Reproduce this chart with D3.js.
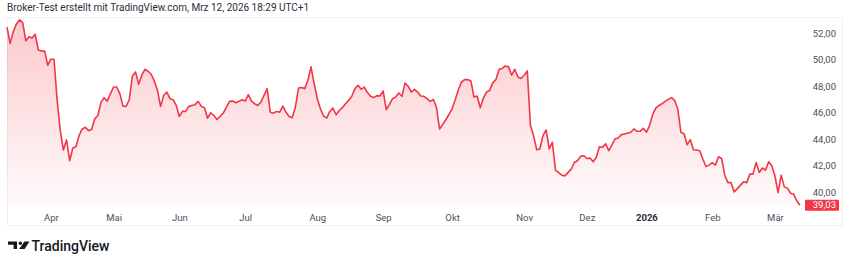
<!DOCTYPE html>
<html>
<head>
<meta charset="utf-8">
<script src="https://cdn.jsdelivr.net/npm/d3@7"></script>
<style>
  body { margin: 0; background: #fff; }
  svg { display: block; font-family: Roboto, "Noto Sans", sans-serif; }
</style>
</head>
<body>
<div class="graph"></div>
<script>
// trading session number (0 = Mar 12 2025) and closing price
const bars = [
  0,1,2,3,4,5,6,7,8,9,10,11,12,13,14,15,16,17,18,19,20,21,22,23,24,25,26,27,28,29,
  30,31,32,33,34,35,36,37,38,39,40,41,42,43,44,45,46,47,48,49,50,51,52,53,54,55,56,57,58,59,
  60,61,62,63,64,65,66,67,69,70,71,72,73,74,75,76,77,78,79,80,81,82,83,84,85,86,87,88,89,
  90,91,92,93,94,95,96,97,98,99,100,101,102,103,104,105,106,107,108,109,110,111,112,113,114,
  115,116,117,118,119,120,121,122,123,124,125,126,127,128,129,130,131,132,133,134,135,136,137,
  138,139,140,141,142,143,144,145,146,147,148,149,150,151,152,153,154,155,156,157,158,159,160,
  161,162,163,164,165,166,167,168,169,170,171,172,173,174,175,176,177,178,180,181,182,183,184,
  185,186,187,188,189,190,191,192,193,194,195,196,197,199,200,201,202,203,204,205,206,207,208,
  209,210,211,212,213,214,215,216,217,218,219,220,221,222,223,224,225,226,227,228,229,230,231,
  232,233,234,235,236,237,238,239,240,241,242,243,244,245,246,247,248,249,250,251,252,253
];
const closes = [
  52.45,51.23,52.11,52.70,53.00,52.80,51.43,51.73,51.64,51.92,50.73,50.65,50.65,49.59,50.04,50.04,46.93,44.65,43.19,43.95,
  42.38,43.34,43.44,44.28,44.78,44.91,44.65,44.73,45.54,45.79,46.80,47.13,46.88,47.44,47.94,47.94,47.44,46.50,46.48,46.98,
  48.75,49.08,48.15,48.83,49.28,49.13,48.90,48.40,47.69,46.48,47.31,47.56,47.06,46.98,46.55,45.72,46.12,46.10,46.48,46.55,
  46.61,46.86,46.48,46.38,45.59,46.00,45.79,45.49,45.97,46.42,46.86,46.88,46.76,46.86,46.98,46.88,47.36,46.88,46.68,46.55,
  46.80,47.31,47.82,46.04,45.97,46.10,46.04,46.50,46.04,45.72,45.62,46.42,47.86,47.90,47.82,48.45,49.46,48.20,47.06,46.30,
  45.74,45.59,46.10,46.35,45.85,46.17,46.38,46.68,46.93,47.24,47.82,48.07,47.77,47.94,47.52,47.24,47.14,47.29,47.26,47.64,
  46.23,46.61,47.06,47.18,47.49,47.24,48.24,47.99,47.56,47.77,47.56,47.26,47.24,47.06,46.86,47.01,46.42,44.78,45.11,45.47,
  45.87,46.30,46.98,47.74,48.32,48.50,48.50,48.40,47.18,47.26,46.38,47.11,47.56,47.69,48.27,48.50,49.28,49.34,49.53,49.46,
  48.83,49.28,48.70,48.58,48.83,49.16,45.03,44.28,43.21,43.27,44.28,44.71,43.27,43.77,41.67,41.49,41.29,41.24,41.75,42.25,
  42.38,42.71,42.76,42.55,42.58,42.30,42.63,43.44,43.39,43.65,43.14,43.57,44.03,44.10,44.35,44.40,44.53,44.78,44.60,44.60,
  44.83,44.53,45.03,45.87,46.35,46.55,46.68,46.86,47.01,47.14,46.93,46.30,44.53,44.40,43.59,43.97,43.21,43.19,43.14,42.51,
  41.95,42.05,42.23,42.05,42.68,42.55,41.29,40.73,40.73,40.03,40.28,40.54,40.79,40.73,41.37,41.37,42.25,41.49,41.83,41.67,
  42.30,42.00,41.24,39.97,41.29,40.41,40.31,39.93,39.85,39.34,39.03
];
const lastClose = 39.03;

// axes
const priceTicks = [40, 42, 44, 46, 48, 50, 52];
const monthBars = [14, 34, 55, 76, 99, 120, 142, 165, 185, 204, 225, 245];
const monthLabels = ["Apr", "Mai", "Jun", "Jul", "Aug", "Sep", "Okt", "Nov", "Dez", "2026", "Feb", "Mär"];
const yearLabels = ["2026"];

const titleText = "Broker-Test erstellt mit TradingView.com, Mrz 12, 2026 18:29 UTC+1";
const brandText = "TradingView";

const width = 850;
const height = 266;
const red = "#f23645";

const de = d3.formatLocale({decimal: ",", thousands: ".", grouping: [3], currency: ["", " €"]});
const fmt = de.format(".2f");

const data = bars.map((b, i) => ({bar: b, close: closes[i]}));

const svg = d3.select(".graph").append("svg")
  .attr("width", width)
  .attr("height", height);

// panel frame
const panel = {left: 7, top: 17, right: 843, bottom: 226, plotBottom: 207};

svg.append("rect")
  .attr("x", panel.left + 0.5)
  .attr("y", panel.top + 0.5)
  .attr("width", panel.right - panel.left - 1)
  .attr("height", panel.bottom - panel.top - 1)
  .attr("fill", "none")
  .attr("stroke", "#eef0f3");

// scales
const x = d3.scaleLinear().domain([0, 253]).range([7, 800]);
const y = d3.scaleLinear().domain([40, 52]).range([192.3, 33.2]);

// gradient for the area
const defs = svg.append("defs");
const grad = defs.append("linearGradient")
  .attr("id", "areaFill")
  .attr("gradientUnits", "userSpaceOnUse")
  .attr("x1", 0).attr("x2", 0)
  .attr("y1", y(53)).attr("y2", panel.plotBottom);
grad.append("stop").attr("offset", 0).attr("stop-color", red).attr("stop-opacity", 0.27);
grad.append("stop").attr("offset", 1).attr("stop-color", red).attr("stop-opacity", 0.02);

const area = d3.area()
  .x(d => x(d.bar))
  .y0(panel.plotBottom)
  .y1(d => y(d.close));

const line = d3.line()
  .x(d => x(d.bar))
  .y(d => y(d.close));

svg.append("path")
  .datum(data)
  .attr("d", area)
  .attr("fill", "url(#areaFill)");

svg.append("path")
  .datum(data)
  .attr("d", line)
  .attr("fill", "none")
  .attr("stroke", red)
  .attr("stroke-width", 1.6)
  .attr("stroke-linejoin", "round");

// price scale on the right
const yAxis = svg.append("g")
  .attr("transform", "translate(836,0)")
  .call(d3.axisRight(y).tickValues(priceTicks).tickSize(0).tickPadding(0).tickFormat(fmt));
yAxis.select(".domain").remove();
yAxis.selectAll("text")
  .attr("text-anchor", "end")
  .attr("font-size", 9.5)
  .attr("font-family", "Roboto, sans-serif")
  .attr("fill", "#4c4f57");

// last price label
const lastY = y(lastClose);
svg.append("rect")
  .attr("x", 805)
  .attr("y", lastY - 5.5)
  .attr("width", 34)
  .attr("height", 11)
  .attr("rx", 1)
  .attr("fill", red);
svg.append("text")
  .attr("x", 836)
  .attr("y", lastY)
  .attr("dy", "0.35em")
  .attr("text-anchor", "end")
  .attr("font-size", 9.5)
  .attr("fill", "#fff")
  .text(fmt(lastClose));

// time scale
const xAxis = svg.append("g")
  .attr("transform", "translate(0,218)")
  .call(d3.axisBottom(x).tickValues(monthBars).tickSize(0).tickPadding(0)
    .tickFormat((d, i) => monthLabels[i]));
xAxis.select(".domain").remove();
xAxis.selectAll("text")
  .attr("dy", "0.35em")
  .attr("font-size", 9.5)
  .attr("font-family", "Roboto, sans-serif")
  .attr("font-weight", (d, i) => yearLabels.includes(monthLabels[i]) ? 700 : 400)
  .attr("fill", (d, i) => yearLabels.includes(monthLabels[i]) ? "#2a2e39" : "#4c4f57");

// title
svg.append("text")
  .attr("x", 7)
  .attr("y", 11)
  .attr("font-size", 10)
  .attr("fill", "#2a2e39")
  .text(titleText);

// logo
const logo = svg.append("g").attr("transform", "translate(8,241.5)");
logo.append("path")
  .attr("d", "M0,0 H9 V7.6 H5.6 V3.3 H0 Z")
  .attr("fill", "#131722");
logo.append("circle")
  .attr("cx", 12.3).attr("cy", 1.7).attr("r", 1.7)
  .attr("fill", "#131722");
logo.append("path")
  .attr("d", "M16.4,0 H21.5 L16.6,7.6 H11.2 Z")
  .attr("fill", "#131722");
svg.append("text")
  .attr("x", 31.5)
  .attr("y", 250.5)
  .attr("font-size", 14)
  .attr("font-weight", 500)
  .attr("fill", "#131722")
  .text(brandText);
</script>
</body>
</html>
